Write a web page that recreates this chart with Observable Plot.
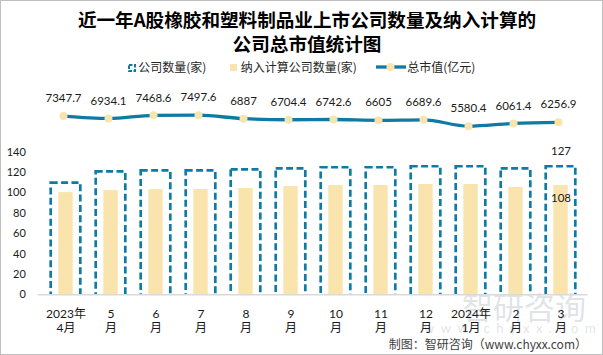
<!DOCTYPE html>
<html><head><meta charset="utf-8">
<script src="https://cdn.jsdelivr.net/npm/d3@7"></script>
<script src="https://cdn.jsdelivr.net/npm/@observablehq/plot@0.6"></script>
<style>
body{margin:0;background:#fff;}
#chart{position:relative;width:603px;height:355px;overflow:hidden;background:#fff;font-family:Lato,"Noto Sans CJK SC",sans-serif;color:#1a1a1a;}
#chart svg{position:absolute;left:0;top:0;}
.frame{position:absolute;left:0;top:0;width:603px;height:355px;border:1px solid #bfbfbf;box-sizing:border-box;pointer-events:none;}
#title{position:absolute;left:7px;width:600px;top:7px;text-align:center;font-weight:bold;font-size:18.6px;line-height:24px;font-family:"Noto Sans CJK SC",sans-serif;color:#000;white-space:nowrap;}
.lg{position:absolute;font-size:12px;line-height:14px;top:60.3px;white-space:nowrap;font-family:"Noto Sans CJK SC",sans-serif;color:#262626;}
.wm1{position:absolute;left:462px;top:288px;font-size:31px;line-height:36px;color:rgba(150,160,172,0.3);font-family:"Noto Sans CJK SC",sans-serif;white-space:nowrap;}
.wm2{position:absolute;left:424px;top:320px;font-size:13px;line-height:16px;letter-spacing:6.5px;color:rgba(150,160,172,0.3);font-family:Lato,sans-serif;white-space:nowrap;}
#footer{position:absolute;right:16px;top:337px;font-size:12px;line-height:14px;color:#404040;font-family:"Noto Sans CJK SC",sans-serif;white-space:nowrap;}
</style></head>
<body>
<div id="chart">
  <div class="wm1">智研咨询</div>
  <div class="wm2">www.chyxx.com</div>
  <div id="title">近一年A股橡胶和塑料制品业上市公司数量及纳入计算的<br>公司总市值统计图</div>
  <svg style="left:128px;top:63.8px" width="8" height="8"><rect x="1" y="1" width="6" height="6" fill="none" stroke="#0F7BA4" stroke-width="2" stroke-dasharray="3.5,1.5"/></svg>
  <div class="lg" style="left:138.3px">公司数量(家)</div>
  <svg style="left:230px;top:64px" width="7" height="7"><rect x="0" y="0" width="7" height="7" fill="#F8E4AC"/></svg>
  <div class="lg" style="left:240.7px">纳入计算公司数量(家)</div>
  <svg style="left:376px;top:62.3px" width="31" height="10"><line x1="0" y1="5" x2="30" y2="5" stroke="#0F7BA4" stroke-width="3.3"/><circle cx="14.5" cy="5" r="4" fill="#F8E4AC"/></svg>
  <div class="lg" style="left:407.3px">总市值(亿元)</div>
  <div id="footer">制图：智研咨询（www.chyxx.com）</div>
  <div class="frame"></div>
</div>
<script>
const months = ["2023-04","2023-05","2023-06","2023-07","2023-08","2023-09","2023-10","2023-11","2023-12","2024-01","2024-02","2024-03"];
const xLabels = ["2023年\n4月","5\n月","6\n月","7\n月","8\n月","9\n月","10\n月","11\n月","12\n月","2024年\n1月","2\n月","3\n月"];
const companyCount = [111,122,123,123,124,125,126,126,127,127,125,127];
const includedCount = [101,103,104,104,105,107,108,108,109,109,106,108];
const marketValue = [7347.7,6934.1,7468.6,7497.6,6887,6704.4,6742.6,6605,6689.6,5580.4,6061.4,6256.9];
const yTicks = [0,20,40,60,80,100,120,140];

const data = months.map((m,i)=>({month:m,count:companyCount[i],included:includedCount[i],value:marketValue[i]}));
const last = data.slice(-1);
const BLUE = "#0F7BA4", YELLOW = "#F8E4AC";
const FONT = "Lato, 'Noto Sans CJK SC', sans-serif";

const bars = Plot.plot({
  width:603, height:355,
  marginTop:151.7, marginBottom:60.7, marginLeft:37.6, marginRight:15.4,
  style:{background:"transparent", fontFamily:FONT, color:"#1a1a1a", overflow:"visible"},
  x:{type:"band", domain:months, padding:0, axis:null},
  y:{domain:[0,140], axis:null},
  marks:[
    Plot.barY(data,{x:"month", y:"included", fill:YELLOW, insetLeft:15.3, insetRight:15.3, insetTop:0.7}),
    Plot.barY(data,{x:"month", y:"count", fill:"none", stroke:BLUE, strokeWidth:2.7, strokeDasharray:"7,3.4", insetLeft:7.7, insetRight:7.7, insetTop:1.3, insetBottom:-5, clip:true}),
    Plot.ruleY([0],{stroke:"#d9d9d9", strokeWidth:1.5}),
    Plot.axisY({ticks:yTicks, tickSize:0, tickPadding:12.3, fontSize:11, label:null, tickFormat:d=>String(d)}),
    Plot.axisX({tickSize:0, tickPadding:13, fontSize:12, lineHeight:1.17, label:null, tickFormat:d=>xLabels[months.indexOf(d)]}),
    Plot.text(last,{x:"month", y:"count", text:d=>String(d.count), dy:-14.5, fontSize:11.5}),
    Plot.text(last,{x:"month", y:"included", text:d=>String(d.included), dy:13.3, fontSize:11.5})
  ]
});

const line = Plot.plot({
  width:603, height:355,
  marginTop:111.8, marginBottom:197.3, marginLeft:35.4, marginRight:17.4,
  style:{background:"transparent", fontFamily:FONT, color:"#1a1a1a", overflow:"visible"},
  x:{type:"point", domain:months, padding:0.5, axis:null},
  y:{domain:[0,8000], axis:null},
  marks:[
    Plot.line(data,{x:"month", y:"value", stroke:BLUE, strokeWidth:3.3, curve:"monotone-x"}),
    Plot.dot(data,{x:"month", y:"value", r:4, fill:YELLOW, stroke:"none"}),
    Plot.text(data,{x:"month", y:"value", text:d=>String(d.value), dy:-17.5, fontSize:11.5})
  ]
});

const chart = document.getElementById("chart");
const frame = chart.querySelector(".frame");
chart.insertBefore(bars, frame);
chart.insertBefore(line, frame);
</script>
</body></html>
